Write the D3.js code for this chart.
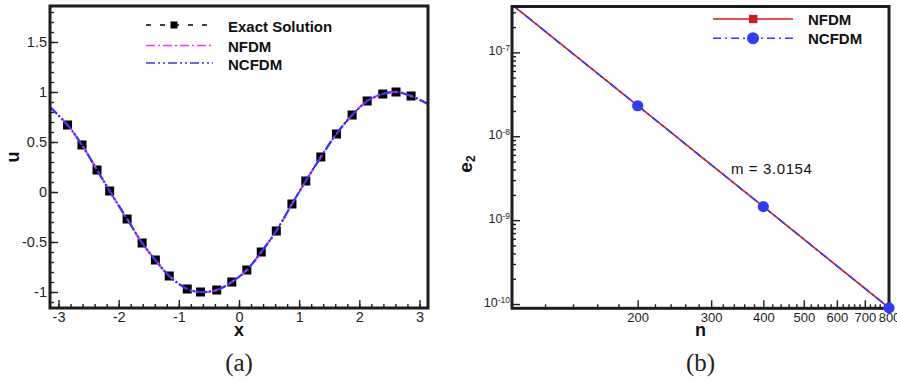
<!DOCTYPE html>
<html>
<head>
<meta charset="utf-8">
<script src="https://cdn.jsdelivr.net/npm/d3@7"></script>
<style>
  body { margin: 0; background: #fff; }
  svg { display: block; }
</style>
</head>
<body>
<svg id="fig" width="897" height="382"></svg>
<script>
// ---------- panel (a): solution profile u(x) ----------
const exactX = [-2.85, -2.61, -2.36, -2.15, -1.86, -1.61, -1.39, -1.16, -0.86, -0.64, -0.37, -0.12,
                 0.13, 0.37, 0.62, 0.88, 1.11, 1.36, 1.62, 1.88, 2.13, 2.39, 2.61, 2.86];
const exactU = [0.67, 0.47, 0.22, 0.01, -0.27, -0.51, -0.68, -0.84, -0.97, -1.00, -0.98, -0.90,
                -0.78, -0.60, -0.39, -0.12, 0.11, 0.35, 0.58, 0.77, 0.91, 0.98, 1.00, 0.96];
const schemeX = [-3.1416, -2.85, -2.61, -2.36, -2.15, -1.86, -1.61, -1.39, -1.16, -0.86, -0.64, -0.37, -0.12,
                  0.13, 0.37, 0.62, 0.88, 1.11, 1.36, 1.62, 1.88, 2.13, 2.39, 2.61, 2.86, 3.1416];
const nfdmU  = [0.85, 0.67, 0.47, 0.22, 0.01, -0.27, -0.51, -0.68, -0.84, -0.97, -1.00, -0.98, -0.90,
                -0.78, -0.60, -0.39, -0.12, 0.11, 0.35, 0.58, 0.77, 0.91, 0.98, 1.00, 0.96, 0.88];
const ncfdmU = [0.85, 0.67, 0.47, 0.22, 0.01, -0.27, -0.51, -0.68, -0.84, -0.97, -1.00, -0.98, -0.90,
                -0.78, -0.60, -0.39, -0.12, 0.11, 0.35, 0.58, 0.77, 0.91, 0.98, 1.00, 0.96, 0.88];
const xTicksA = [-3, -2, -1, 0, 1, 2, 3];
const uTicksA = [-1, -0.5, 0, 0.5, 1, 1.5];
const legendA = ["Exact Solution", "NFDM", "NCFDM"];

// ---------- panel (b): L2 error vs grid size ----------
const nValues   = [100, 200, 400, 800];
const nfdmErr   = [3.70e-7, 2.31e-8, 1.45e-9, 9.0e-11];
const ncfdmErr  = [3.70e-7, 2.31e-8, 1.45e-9, 9.0e-11];
const nTicks    = [200, 300, 400, 500, 600, 700, 800];
const eTicks    = [1e-10, 1e-9, 1e-8, 1e-7];
const eTickExp  = ["-10", "-9", "-8", "-7"];
const legendB   = ["NFDM", "NCFDM"];
const slopeText = "m = 3.0154";

const SANS = '"Liberation Sans", Arial, Helvetica, sans-serif';
const SERIF = '"Liberation Serif", "Times New Roman", serif';
const INK = "#1e1e1e";
const MAGENTA = "#ee3bee";
const BLUE = "#3535ff";
const RED = "#d21a1a";
const DOT = "#2e3cff";

const svg = d3.select("#fig");
const defs = svg.append("defs");

function styleAxis(g, size) {
  g.attr("color", INK).attr("font-family", SANS).attr("font-size", size);
  g.select(".domain").remove();
  g.selectAll(".tick line").attr("stroke-width", 1.4);
}

// ================= panel (a) =================
const A = { left: 50, right: 428, top: 6, bottom: 308 };
const xA = d3.scaleLinear().domain([-Math.PI, Math.PI]).range([A.left, A.right]);
const yA = d3.scaleLinear().domain([-1.16, 1.86]).range([A.bottom, A.top]);

defs.append("clipPath").attr("id", "clipA").append("rect")
  .attr("x", A.left).attr("y", A.top).attr("width", A.right - A.left).attr("height", A.bottom - A.top);

const gA = svg.append("g");

// minor and major ticks, pointing into the frame
gA.append("g").attr("transform", `translate(0,${A.bottom})`)
  .call(d3.axisBottom(xA).tickValues(d3.range(-3, 3.01, 0.2)).tickSize(-4).tickFormat(""))
  .call(g => styleAxis(g, 14.5));
gA.append("g").attr("transform", `translate(0,${A.bottom})`)
  .call(d3.axisBottom(xA).tickValues(xTicksA).tickSize(-8).tickPadding(3.5).tickFormat(d => String(d)))
  .call(g => styleAxis(g, 14.5));
gA.append("g").attr("transform", `translate(${A.left},0)`)
  .call(d3.axisLeft(yA).tickValues(d3.range(-1.1, 1.81, 0.1)).tickSize(-4).tickFormat(""))
  .call(g => styleAxis(g, 14.5));
gA.append("g").attr("transform", `translate(${A.left},0)`)
  .call(d3.axisLeft(yA).tickValues(uTicksA).tickSize(-8).tickPadding(3).tickFormat(d => String(d)))
  .call(g => styleAxis(g, 14.5));

const plotA = gA.append("g").attr("clip-path", "url(#clipA)");
const lineA = d3.line().x(d => xA(d[0])).y(d => yA(d[1])).curve(d3.curveCatmullRom);

plotA.append("path").datum(d3.zip(exactX, exactU))
  .attr("d", lineA).attr("fill", "none").attr("stroke", "#000")
  .attr("stroke-width", 1.2).attr("stroke-dasharray", "5,9");

plotA.selectAll("rect.exact").data(d3.zip(exactX, exactU)).join("rect")
  .attr("class", "exact")
  .attr("x", d => xA(d[0]) - 4.5).attr("y", d => yA(d[1]) - 4.5)
  .attr("width", 9).attr("height", 9).attr("fill", "#000");

plotA.append("path").datum(d3.zip(schemeX, nfdmU))
  .attr("d", lineA).attr("fill", "none").attr("stroke", MAGENTA)
  .attr("stroke-width", 2).attr("stroke-dasharray", "9,3,2,3");
plotA.append("path").datum(d3.zip(schemeX, ncfdmU))
  .attr("d", lineA).attr("fill", "none").attr("stroke", BLUE)
  .attr("stroke-width", 2.2).attr("stroke-dasharray", "10,2,2,2,2,2");

// legend (a)
const legA = gA.append("g").attr("font-family", SANS).attr("font-weight", "bold").attr("font-size", 15).attr("fill", "#111");
const legAy = [25, 45.5, 63];
legA.append("line").attr("x1", 146).attr("x2", 213).attr("y1", legAy[0]).attr("y2", legAy[0])
  .attr("stroke", "#000").attr("stroke-width", 1.4).attr("stroke-dasharray", "5,9");
legA.append("rect").attr("x", 170.5).attr("y", legAy[0] - 3.5).attr("width", 7).attr("height", 7).attr("fill", "#000");
legA.append("line").attr("x1", 146).attr("x2", 213).attr("y1", legAy[1]).attr("y2", legAy[1])
  .attr("stroke", MAGENTA).attr("stroke-width", 1.6).attr("stroke-dasharray", "9,3,2,3");
legA.append("line").attr("x1", 146).attr("x2", 213).attr("y1", legAy[2]).attr("y2", legAy[2])
  .attr("stroke", BLUE).attr("stroke-width", 1.6).attr("stroke-dasharray", "9,3,2,3,2,3");
legA.selectAll("text").data(legendA).join("text")
  .attr("x", 228).attr("y", (d, i) => legAy[i] + 6.5).text(d => d);

// frame (a)
gA.append("rect").attr("x", A.left).attr("y", A.top)
  .attr("width", A.right - A.left).attr("height", A.bottom - A.top)
  .attr("fill", "none").attr("stroke", INK).attr("stroke-width", 3);

// axis titles (a)
gA.append("text").attr("x", (A.left + A.right) / 2).attr("y", 336)
  .attr("text-anchor", "middle").attr("font-family", SANS).attr("font-weight", "bold")
  .attr("font-size", 18).attr("fill", "#111").text("x");
gA.append("text").attr("transform", "translate(18.5,157) rotate(-90)")
  .attr("text-anchor", "middle").attr("font-family", SANS).attr("font-weight", "bold")
  .attr("font-size", 18).attr("fill", "#111").text("u");
gA.append("text").attr("x", (A.left + A.right) / 2).attr("y", 371)
  .attr("text-anchor", "middle").attr("font-family", SERIF)
  .attr("font-size", 25).attr("fill", "#222").text("(a)");

// ================= panel (b) =================
const B = { left: 512, right: 889, top: 6.5, bottom: 308.3 };
const xB = d3.scaleLog().domain([100, 800]).range([B.left, B.right]);
const yB = d3.scaleLog().domain([8.89e-11, 3.52e-7]).range([B.bottom, B.top]);

defs.append("clipPath").attr("id", "clipB").append("rect")
  .attr("x", B.left).attr("y", B.top).attr("width", B.right - B.left).attr("height", B.bottom - B.top);

const gB = svg.append("g");

const minorN = d3.range(120, 800, 20).filter(v => !nTicks.includes(v));
gB.append("g").attr("transform", `translate(0,${B.bottom})`)
  .call(d3.axisBottom(xB).tickValues(minorN).tickSize(-4).tickFormat(""))
  .call(g => styleAxis(g, 13));
gB.append("g").attr("transform", `translate(0,${B.bottom})`)
  .call(d3.axisBottom(xB).tickValues(nTicks).tickSize(-8).tickPadding(4.5).tickFormat(d => String(d)))
  .call(g => styleAxis(g, 13));

const minorE = [];
[1e-11, 1e-10, 1e-9, 1e-8, 1e-7].forEach(dec => {
  for (let k = 2; k <= 9; k++) {
    const v = k * dec;
    if (v > yB.domain()[0] && v < yB.domain()[1]) minorE.push(v);
  }
});
gB.append("g").attr("transform", `translate(${B.left},0)`)
  .call(d3.axisLeft(yB).tickValues(minorE).tickSize(-4).tickFormat(""))
  .call(g => styleAxis(g, 12));
const yAxisB = gB.append("g").attr("transform", `translate(${B.left},0)`)
  .call(d3.axisLeft(yB).tickValues(eTicks).tickSize(-8).tickPadding(2).tickFormat(""))
  .call(g => styleAxis(g, 12.5));
yAxisB.selectAll(".tick text").each(function (d, i) {
  const t = d3.select(this).attr("dy", "0.2em");
  t.append("tspan").text("10");
  t.append("tspan").attr("dy", "-0.5em").attr("font-size", 8.5).text(eTickExp[i]);
});

const plotB = gB.append("g").attr("clip-path", "url(#clipB)");
const lineB = d3.line().x(d => xB(d[0])).y(d => yB(d[1]));
plotB.append("path").datum(d3.zip(nValues, nfdmErr))
  .attr("d", lineB).attr("fill", "none").attr("stroke", RED).attr("stroke-width", 1.6);
plotB.append("path").datum(d3.zip(nValues, ncfdmErr))
  .attr("d", lineB).attr("fill", "none").attr("stroke", BLUE)
  .attr("stroke-width", 1.6).attr("stroke-dasharray", "8,4,2,4");

// slope annotation
gB.append("text").attr("x", 731).attr("y", 173.5)
  .attr("font-family", SANS).attr("font-size", 15).attr("letter-spacing", 0.6)
  .attr("fill", "#111").text(slopeText);

// frame (b)
gB.append("rect").attr("x", B.left).attr("y", B.top)
  .attr("width", B.right - B.left).attr("height", B.bottom - B.top)
  .attr("fill", "none").attr("stroke", INK).attr("stroke-width", 3);

// symbols for points inside the plotted range
const inRange = d => d[0] >= xB.domain()[0] && d[0] <= xB.domain()[1] * 1.001 &&
                     d[1] >= yB.domain()[0] * 0.999 && d[1] <= yB.domain()[1];
gB.selectAll("rect.nfdm").data(d3.zip(nValues, nfdmErr).filter(inRange)).join("rect")
  .attr("class", "nfdm")
  .attr("x", d => xB(d[0]) - 3.5).attr("y", d => yB(d[1]) - 3.5)
  .attr("width", 7).attr("height", 7).attr("fill", RED);
gB.selectAll("circle.ncfdm").data(d3.zip(nValues, ncfdmErr).filter(inRange)).join("circle")
  .attr("class", "ncfdm")
  .attr("cx", d => xB(d[0])).attr("cy", d => yB(d[1])).attr("r", 5.6).attr("fill", DOT);

// legend (b)
const legB = gB.append("g").attr("font-family", SANS).attr("font-weight", "bold").attr("font-size", 15).attr("fill", "#111");
const legBy = [19, 38.3];
legB.append("line").attr("x1", 713).attr("x2", 793).attr("y1", legBy[0]).attr("y2", legBy[0])
  .attr("stroke", RED).attr("stroke-width", 1.6);
legB.append("rect").attr("x", 749).attr("y", legBy[0] - 4.2).attr("width", 8.4).attr("height", 8.4).attr("fill", RED);
legB.append("line").attr("x1", 713).attr("x2", 793).attr("y1", legBy[1]).attr("y2", legBy[1])
  .attr("stroke", BLUE).attr("stroke-width", 1.6).attr("stroke-dasharray", "8,4,2,4");
legB.append("circle").attr("cx", 753).attr("cy", legBy[1]).attr("r", 6).attr("fill", DOT);
legB.selectAll("text").data(legendB).join("text")
  .attr("x", 808).attr("y", (d, i) => legBy[i] + 5.5).text(d => d);

// axis titles (b)
gB.append("text").attr("x", (B.left + B.right) / 2).attr("y", 336)
  .attr("text-anchor", "middle").attr("font-family", SANS).attr("font-weight", "bold")
  .attr("font-size", 18).attr("fill", "#111").text("n");
const eLabel = gB.append("text").attr("transform", "translate(471.5,164) rotate(-90)")
  .attr("text-anchor", "middle").attr("font-family", SANS).attr("font-weight", "bold")
  .attr("font-size", 19).attr("fill", "#111");
eLabel.append("tspan").text("e");
eLabel.append("tspan").attr("dy", "0.3em").attr("font-size", 12).text("2");
gB.append("text").attr("x", (B.left + B.right) / 2).attr("y", 371)
  .attr("text-anchor", "middle").attr("font-family", SERIF)
  .attr("font-size", 25).attr("fill", "#222").text("(b)");
</script>
</body>
</html>
